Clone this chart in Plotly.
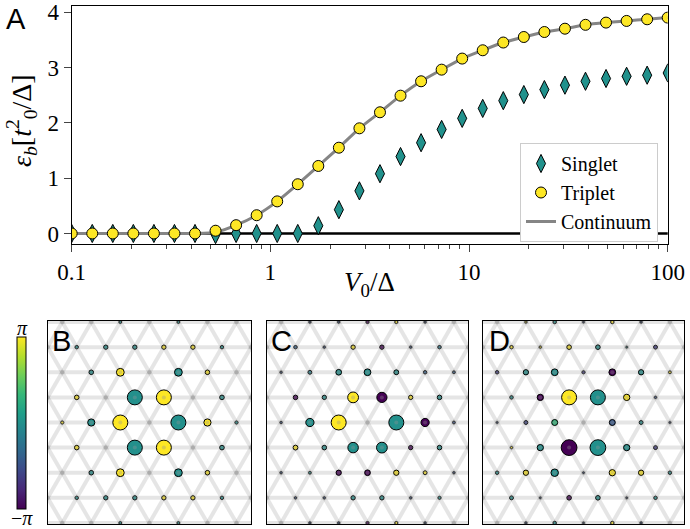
import numpy as np
import plotly.graph_objects as go

PI = np.pi
Y, T, P = PI, 0.0, -PI

# ---------------- Panel A data ----------------
V0 = [0.1, 0.1269, 0.1610, 0.2043, 0.2593, 0.3290, 0.4175, 0.5298, 0.6723, 0.8532,
      1.0826, 1.3738, 1.7433, 2.2122, 2.8072, 3.5622, 4.5204, 5.7362, 7.2790, 9.2367,
      11.721, 14.874, 18.874, 23.950, 30.392, 38.566, 48.939, 62.102, 78.805, 100.0]
triplet = [0, 0, 0, 0, 0, 0, 0, 0.05, 0.15, 0.33, 0.58, 0.89, 1.22, 1.55, 1.90, 2.19,
           2.49, 2.75, 2.96, 3.16, 3.31, 3.45, 3.55, 3.64, 3.70, 3.77, 3.81, 3.84, 3.87, 3.90]
singlet = [0, 0, 0, 0, 0, 0, 0, -0.02, 0, 0, 0, 0, 0.14, 0.43, 0.77, 1.08, 1.39, 1.64,
           1.88, 2.08, 2.26, 2.40, 2.51, 2.60, 2.68, 2.75, 2.80, 2.84, 2.86, 2.90]
continuum = [0, 0, 0, 0, 0, 0, 0, 0.02, 0.15, 0.33, 0.58, 0.89, 1.22, 1.55, 1.90, 2.19,
             2.49, 2.75, 2.96, 3.16, 3.31, 3.45, 3.55, 3.64, 3.70, 3.77, 3.81, 3.84, 3.87, 3.90]
x_ticks = [0.1, 1, 10, 100]
x_ticktext = ["0.1", "1", "10", "100"]
y_ticks = [0, 1, 2, 3, 4]

# ---------------- Lattice panels data (rows top k=4 -> bottom k=-4) ----------------
B_amp = [
    [0, 0, 0.18, 0, 0.18, 0, 0],
    [0, 0.22, 0.28, 0.28, 0.28, 0.28, 0.22, 0],
    [0, 0.30, 0.52, 0, 0.52, 0.30, 0],
    [0, 0.30, 0, 1.0, 1.0, 0, 0.30, 0],
    [0.20, 0.48, 1.0, 0, 1.0, 0.48, 0.20],
    [0, 0.30, 0, 1.0, 1.0, 0, 0.30, 0],
    [0, 0.30, 0.52, 0, 0.52, 0.30, 0],
    [0, 0.22, 0.28, 0.28, 0.28, 0.28, 0.22, 0],
    [0, 0, 0.18, 0, 0.18, 0, 0],
]
B_phase = [
    [0, 0, T, 0, T, 0, 0],
    [0, T, T, T, Y, Y, T, 0],
    [0, T, Y, 0, T, Y, 0],
    [0, Y, 0, T, Y, 0, T, 0],
    [Y, T, Y, 0, T, Y, T],
    [0, Y, 0, T, Y, 0, T, 0],
    [0, T, Y, 0, T, Y, 0],
    [0, T, T, T, Y, Y, T, 0],
    [0, 0, T, 0, T, 0, 0],
]
C_amp = [
    [0, 0.15, 0.15, 0.20, 0.20, 0.15, 0],
    [0, 0.22, 0.15, 0.28, 0.28, 0.15, 0.22, 0],
    [0.15, 0.25, 0.38, 0.45, 0.32, 0.22, 0.18],
    [0, 0.30, 0.28, 0.72, 0.68, 0.28, 0.30, 0],
    [0.15, 0.55, 1.0, 0, 1.0, 0.55, 0.18],
    [0, 0.32, 0.30, 0.70, 0.72, 0.28, 0.30, 0],
    [0.15, 0.18, 0.35, 0.38, 0.35, 0.25, 0.15],
    [0, 0.15, 0.15, 0.28, 0.28, 0.15, 0.20, 0],
    [0, 0.15, 0.15, 0.20, 0.20, 0.15, 0],
]
C_phase = [
    [0, -1.5, -1.5, P, Y, -1.5, 0],
    [0, -1.2, -1.5, Y, P, -1.5, -0.6, 0],
    [-1.5, -0.4, 0, 0, 0, -1.2, -1.2],
    [0, P, 0, Y, P, Y, 0, 0],
    [-1.5, 0, Y, 0, 0, P, -1.5],
    [0, Y, 0, 0, 0, P, 0, 0],
    [-1.5, 0, P, P, Y, Y, -1.5],
    [0, -1.5, -1.5, 0, 0, -1.5, 0, 0],
    [0, -1.5, -1.5, P, Y, -1.5, 0],
]
D_amp = [
    [0, 0.15, 0.22, 0.12, 0.22, 0.15, 0],
    [0, 0.22, 0.15, 0.30, 0.30, 0.12, 0.25, 0],
    [0.22, 0.35, 0.45, 0.20, 0.45, 0.35, 0.18],
    [0, 0.22, 0.42, 1.0, 1.0, 0.42, 0.15, 0],
    [0.12, 0.25, 0.40, 0, 0.40, 0.25, 0.12],
    [0, 0.15, 0.42, 1.05, 1.05, 0.42, 0.25, 0],
    [0.22, 0.35, 0.50, 0.12, 0.42, 0.35, 0.22],
    [0, 0.25, 0.12, 0.30, 0.30, 0.12, 0.22, 0],
    [0, 0.15, 0.22, 0.12, 0.22, 0.15, 0],
]
D_phase = [
    [0, Y, 0, -1.5, Y, -1.5, 0],
    [0, Y, Y, Y, 0, 0, -2.0, 0],
    [-2.0, 0, 0, -2.0, P, 0, Y],
    [0, 0, P, Y, 0, Y, -1.5, 0],
    [-1.5, -1.8, 1.0, 0, -1.4, 0, -1.5],
    [0, Y, 0, P, 0, 0, -2.0, 0],
    [0, Y, 0, -1.5, Y, Y, 0],
    [0, 0, -1.5, P, 0, -1.5, 0, 0],
    [0, -1.5, 0, -1.5, Y, -1.5, 0],
]
row_index = [4, 3, 2, 1, 0, -1, -2, -3, -4]

# ---------------- styling ----------------
SERIF = "Liberation Serif"
SANS = "Liberation Sans"
MAXSIZE = 15
H = np.sqrt(3) / 2

fig = go.Figure()

# Panel A
fig.add_trace(go.Scatter(x=V0, y=continuum, mode="lines", name="Continuum",
                         line=dict(color="#858585", width=3, shape="spline", smoothing=0.6),
                         legendrank=3, xaxis="x", yaxis="y"))
fig.add_trace(go.Scatter(x=V0, y=singlet, mode="markers", name="Singlet",
                         marker=dict(symbol="diamond-tall", size=13, color="#21918c",
                                     line=dict(color="black", width=1)),
                         legendrank=1, xaxis="x", yaxis="y"))
fig.add_trace(go.Scatter(x=V0, y=triplet, mode="markers", name="Triplet",
                         marker=dict(symbol="circle", size=11, color="#fde725",
                                     line=dict(color="black", width=1)),
                         legendrank=2, xaxis="x", yaxis="y"))


def lattice_sites(amp_rows, phase_rows):
    xs, ys, amps, phs = [], [], [], []
    for k, arow, prow in zip(row_index, amp_rows, phase_rows):
        n = len(arow)
        x0 = -(n - 1) / 2.0
        for i, (a, p) in enumerate(zip(arow, prow)):
            xs.append(x0 + i)
            ys.append(k * H)
            amps.append(a)
            phs.append(p)
    return np.array(xs), np.array(ys), np.array(amps), np.array(phs)


def lattice_lines():
    fams = []
    xh, yh = [], []
    for k in row_index:
        xh += [-5, 5, None]
        yh += [k * H, k * H, None]
    fams.append((xh, yh))
    for s in (1, -1):
        xd, yd = [], []
        for j in range(-8, 9):
            xd += [j - s * 4.5 / np.sqrt(3), j + s * 4.5 / np.sqrt(3), None]
            yd += [-4.5, 4.5, None]
        fams.append((xd, yd))
    return fams


panels = [("x2", "y2", B_amp, B_phase, True),
          ("x3", "y3", C_amp, C_phase, False),
          ("x4", "y4", D_amp, D_phase, False)]

for xa, ya, amp, ph, show in panels:
    for (lx, ly) in lattice_lines():
        fig.add_trace(go.Scatter(x=lx, y=ly, mode="lines", showlegend=False, hoverinfo="skip",
                                 line=dict(color="rgba(0,0,0,0.10)", width=4),
                                 xaxis=xa, yaxis=ya))
    xs, ys, a, p = lattice_sites(amp, ph)
    m = a > 0
    marker = dict(size=a[m] * MAXSIZE, color=p[m], colorscale="Viridis", cmin=-PI, cmax=PI,
                  line=dict(color="black", width=1), opacity=1)
    if show:
        marker.update(showscale=True,
                      colorbar=dict(x=17.3 / 690, xanchor="left", y=1 - 423.3 / 529, yanchor="middle",
                                    thickness=9, len=172, lenmode="pixels", xpad=0, ypad=0,
                                    outlinewidth=1, outlinecolor="black",
                                    showticklabels=False, ticks=""))
    fig.add_trace(go.Scatter(x=xs[m], y=ys[m], mode="markers", showlegend=False,
                             marker=marker, xaxis=xa, yaxis=ya, hoverinfo="skip"))
    fig.add_trace(go.Scatter(x=xs, y=ys, mode="markers", showlegend=False, hoverinfo="skip",
                             marker=dict(size=4, color="rgba(150,150,150,0.35)"),
                             xaxis=xa, yaxis=ya))

minor_vals = [m * 10.0 ** e for e in (-1, 0, 1) for m in range(2, 10)]

frame = dict(showline=True, mirror=True, linecolor="black", linewidth=1.3, automargin=False)
lat_ax = dict(range=[-3.5, 3.5], showgrid=False, zeroline=False, showticklabels=False,
              ticks="", fixedrange=True, **frame)

fig.update_layout(
    width=690, height=529,
    margin=dict(l=0, r=0, t=0, b=0, autoexpand=False),
    paper_bgcolor="white", plot_bgcolor="white",
    font=dict(family=SERIF, color="black", size=20),
    xaxis=dict(domain=[71.7 / 690, 667.7 / 690], anchor="y", type="log", range=[-1, 2],
               tickvals=x_ticks, ticktext=x_ticktext, ticks="outside", ticklen=7, tickwidth=1.3,
               tickfont=dict(size=23, family=SERIF), showgrid=False, zeroline=False,
               minor=dict(tickvals=minor_vals, ticks="outside", ticklen=4, tickwidth=1,
                          showgrid=False),
               **frame),
    yaxis=dict(domain=[1 - 244 / 529, 1 - 6 / 529], anchor="x", range=[-0.19, 4.11],
               tickvals=y_ticks, ticks="outside", ticklen=7, tickwidth=1.3,
               tickfont=dict(size=23, family=SERIF), showgrid=False, zeroline=False, **frame),
    xaxis2=dict(domain=[47.7 / 690, 251 / 690], anchor="y2", **lat_ax),
    yaxis2=dict(domain=[1 - 524 / 529, 1 - 321 / 529], anchor="x2", **lat_ax),
    xaxis3=dict(domain=[266.7 / 690, 468.3 / 690], anchor="y3", **lat_ax),
    yaxis3=dict(domain=[1 - 524 / 529, 1 - 321 / 529], anchor="x3", **lat_ax),
    xaxis4=dict(domain=[482.7 / 690, 684.3 / 690], anchor="y4", **lat_ax),
    yaxis4=dict(domain=[1 - 524 / 529, 1 - 321 / 529], anchor="x4", **lat_ax),
    legend=dict(x=658 / 690, xanchor="right", y=1 - 143 / 529, yanchor="top",
                bgcolor="white", bordercolor="#cccccc", borderwidth=1,
                font=dict(family=SERIF, size=20), tracegroupgap=0, itemwidth=30),
    showlegend=True,
    shapes=[dict(type="line", xref="x domain", yref="y", x0=0, x1=1, y0=0, y1=0,
                 line=dict(color="black", width=2.5), layer="below")],
    annotations=[
        dict(text="A", x=16 / 690, y=1 - 19 / 529, xref="paper", yref="paper",
             showarrow=False, font=dict(family=SANS, size=29), xanchor="center", yanchor="middle"),
        dict(text="B", x=61 / 690, y=1 - 341 / 529, xref="paper", yref="paper",
             showarrow=False, font=dict(family=SANS, size=29), xanchor="center", yanchor="middle"),
        dict(text="C", x=281 / 690, y=1 - 341 / 529, xref="paper", yref="paper",
             showarrow=False, font=dict(family=SANS, size=29), xanchor="center", yanchor="middle"),
        dict(text="D", x=499 / 690, y=1 - 341 / 529, xref="paper", yref="paper",
             showarrow=False, font=dict(family=SANS, size=29), xanchor="center", yanchor="middle"),
        dict(text="<i>V</i><sub>0</sub>/Δ", x=369 / 690, y=1 - 284 / 529, xref="paper", yref="paper",
             showarrow=False, font=dict(family=SERIF, size=27), xanchor="center", yanchor="middle"),
        dict(text="<i>ε</i><sub><i>b</i></sub>[<i>t</i><sup>2</sup><sub>0</sub>/Δ]",
             x=22 / 690, y=1 - 121 / 529, xref="paper", yref="paper", textangle=-90,
             showarrow=False, font=dict(family=SERIF, size=28), xanchor="center", yanchor="middle"),
        dict(text="<i>π</i>", x=22 / 690, y=1 - 328 / 529, xref="paper", yref="paper",
             showarrow=False, font=dict(family=SERIF, size=20), xanchor="center", yanchor="middle"),
        dict(text="−<i>π</i>", x=22 / 690, y=1 - 518 / 529, xref="paper", yref="paper",
             showarrow=False, font=dict(family=SERIF, size=20), xanchor="center", yanchor="middle"),
    ],
)

fig.write_html("out.html", config={"displayModeBar": False},
               post_script="document.body.style.margin='0px';")
